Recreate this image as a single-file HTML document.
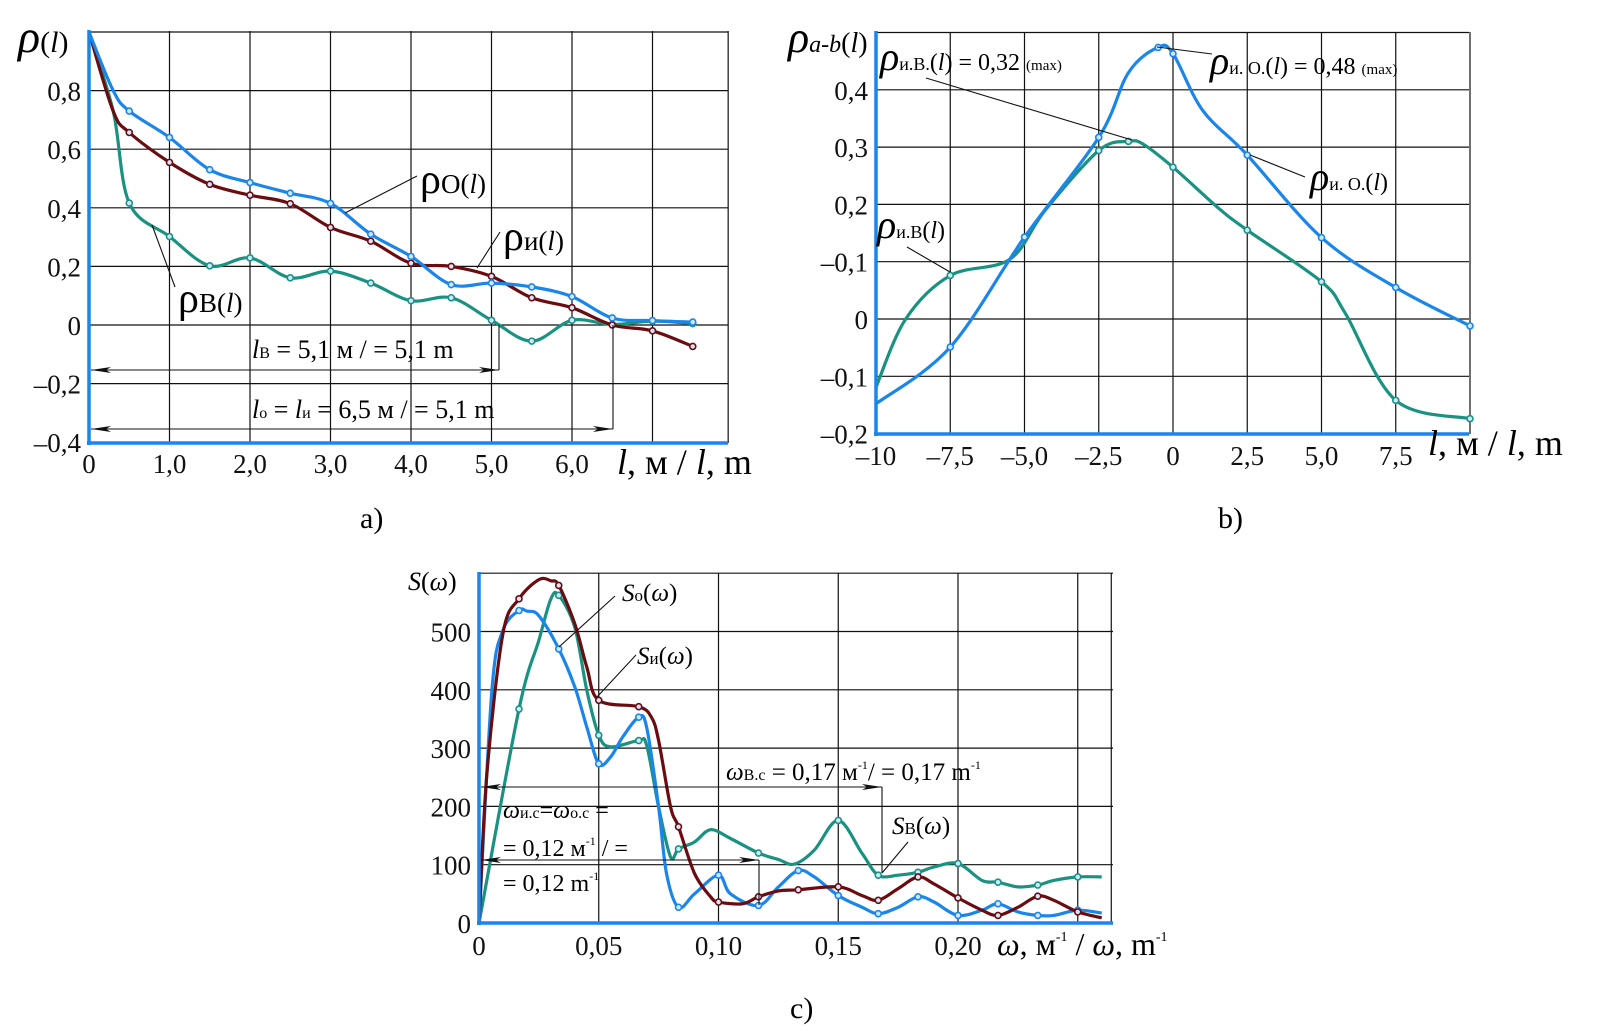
<!DOCTYPE html>
<html><head><meta charset="utf-8">
<style>
html,body{margin:0;padding:0;background:#fff;}
svg{display:block;font-family:"Liberation Serif",serif;}
.tick{font-size:27px;fill:#111;}
.grid{stroke:#111;stroke-width:1.2;}
.ax{stroke:#1a86ea;stroke-width:3.5;}
.lead{stroke:#111;stroke-width:1.1;fill:none;}
</style></head>
<body>
<svg id="fig" width="1610" height="1036" viewBox="0 0 1610 1036" xmlns="http://www.w3.org/2000/svg">
<defs>
<marker id="arr" viewBox="0 0 20 6" refX="20" refY="3" markerWidth="20" markerHeight="6" markerUnits="userSpaceOnUse" orient="auto-start-reverse">
<path d="M0,0 L20,3 L0,6 L5,3 Z" fill="#111"/></marker>
</defs>
<g id="chartA"></g>
<g id="chartB"></g>
<g id="chartC"></g>

<g>
<text x="18" y="52" font-size="46" font-style="italic">ρ<tspan font-size="30" font-style="normal">(</tspan><tspan font-size="30">l</tspan><tspan font-size="30" font-style="normal">)</tspan></text>
<text x="617" y="474" font-size="36"><tspan font-style="italic">l</tspan>, м / <tspan font-style="italic">l</tspan>, m</text>
<line class="lead" x1="417" y1="176" x2="345" y2="213"/>
<text x="420" y="193" font-size="42">ρ<tspan font-size="27">O(<tspan font-style="italic">l</tspan>)</tspan></text>
<line class="lead" x1="500" y1="232" x2="477" y2="268"/>
<text x="503" y="250" font-size="42">ρ<tspan font-size="27">и(<tspan font-style="italic">l</tspan>)</tspan></text>
<line class="lead" x1="175" y1="287" x2="152" y2="225"/>
<text x="178" y="312" font-size="42">ρ<tspan font-size="27">B(<tspan font-style="italic">l</tspan>)</tspan></text>
<line class="lead" x1="499" y1="325" x2="499" y2="370"/>
<line class="lead" x1="91" y1="370" x2="499" y2="370" marker-start="url(#arr)" marker-end="url(#arr)"/>
<text x="252" y="358" font-size="26"><tspan font-style="italic">l</tspan><tspan font-size="16">B</tspan> = 5,1 м / = 5,1 m</text>
<line class="lead" x1="613" y1="325" x2="613" y2="429"/>
<line class="lead" x1="91" y1="429" x2="613" y2="429" marker-start="url(#arr)" marker-end="url(#arr)"/>
<text x="252" y="418" font-size="26"><tspan font-style="italic">l</tspan><tspan font-size="16">o</tspan> = <tspan font-style="italic">l</tspan><tspan font-size="16">и</tspan> = 6,5 м / = 5,1 m</text>
<text x="360" y="528" font-size="30">a)</text>
</g>

<g>
<text x="788" y="52" font-size="44" font-style="italic">ρ<tspan font-size="24">a-b</tspan><tspan font-size="28" font-style="normal">(</tspan><tspan font-size="28">l</tspan><tspan font-size="28" font-style="normal">)</tspan></text>
<text x="1428" y="455" font-size="36"><tspan font-style="italic">l</tspan>, м / <tspan font-style="italic">l</tspan>, m</text>
<line class="lead" x1="926" y1="78" x2="1132" y2="140"/>
<text x="880" y="70" font-size="40" font-style="italic">ρ<tspan font-size="18" font-style="normal">и.B.</tspan><tspan font-size="24" font-style="normal">(</tspan><tspan font-size="24">l</tspan><tspan font-size="24" font-style="normal">) = 0,32 </tspan><tspan font-size="15" font-style="normal">(max)</tspan></text>
<line class="lead" x1="1212" y1="54" x2="1157" y2="47"/>
<text x="1210" y="74" font-size="40" font-style="italic">ρ<tspan font-size="18" font-style="normal">и. O.</tspan><tspan font-size="24" font-style="normal">(</tspan><tspan font-size="24">l</tspan><tspan font-size="24" font-style="normal">) = 0,48 </tspan><tspan font-size="15" font-style="normal">(max)</tspan></text>
<line class="lead" x1="1305" y1="177" x2="1250" y2="155"/>
<text x="1310" y="190" font-size="40" font-style="italic">ρ<tspan font-size="18" font-style="normal">и. O.</tspan><tspan font-size="24" font-style="normal">(</tspan><tspan font-size="24">l</tspan><tspan font-size="24" font-style="normal">)</tspan></text>
<line class="lead" x1="907" y1="247" x2="950" y2="272"/>
<text x="877" y="238" font-size="40" font-style="italic">ρ<tspan font-size="18" font-style="normal">и.B</tspan><tspan font-size="24" font-style="normal">(</tspan><tspan font-size="24">l</tspan><tspan font-size="24" font-style="normal">)</tspan></text>
<text x="1218" y="528" font-size="30">b)</text>
</g>

<g>
<text x="408" y="590" font-size="26"><tspan font-style="italic">S</tspan>(<tspan font-style="italic">ω</tspan>)</text>
<text x="997" y="955" font-size="32"><tspan font-style="italic">ω</tspan>, м<tspan font-size="14" dy="-14">-1</tspan><tspan dy="14"> / </tspan><tspan font-style="italic">ω</tspan>, m<tspan font-size="14" dy="-14">-1</tspan></text>
<line class="lead" x1="615" y1="596" x2="559" y2="647"/>
<text x="622" y="601" font-size="25"><tspan font-style="italic">S</tspan><tspan font-size="17">o</tspan>(<tspan font-style="italic">ω</tspan>)</text>
<line class="lead" x1="636" y1="655" x2="597" y2="697"/>
<text x="637" y="664" font-size="25"><tspan font-style="italic">S</tspan><tspan font-size="17">и</tspan>(<tspan font-style="italic">ω</tspan>)</text>
<line class="lead" x1="908" y1="842" x2="882" y2="873"/>
<text x="892" y="834" font-size="25"><tspan font-style="italic">S</tspan><tspan font-size="17">B</tspan>(<tspan font-style="italic">ω</tspan>)</text>
<line class="lead" x1="882" y1="787" x2="882" y2="873"/>
<line class="lead" x1="481" y1="787" x2="882" y2="787" marker-start="url(#arr)" marker-end="url(#arr)"/>
<text x="726" y="780" font-size="25"><tspan font-style="italic">ω</tspan><tspan font-size="16">B.c</tspan> = 0,17 м<tspan font-size="12" dy="-11">-1</tspan><tspan dy="11">/ = 0,17 m</tspan><tspan font-size="12" dy="-11">-1</tspan></text>
<line class="lead" x1="759" y1="860" x2="759" y2="905"/>
<line class="lead" x1="481" y1="860" x2="759" y2="860" marker-start="url(#arr)" marker-end="url(#arr)"/>
<text x="503" y="818" font-size="24"><tspan font-style="italic">ω</tspan><tspan font-size="16">и.c</tspan>=<tspan font-style="italic">ω</tspan><tspan font-size="16">o.c</tspan> =</text>
<text x="503" y="856" font-size="24">= 0,12 м<tspan font-size="12" dy="-11">-1</tspan><tspan dy="11"> / =</tspan></text>
<text x="503" y="891" font-size="24">= 0,12 m<tspan font-size="12" dy="-11">-1</tspan></text>
<text x="790" y="1018" font-size="30">c)</text>
</g>
</svg>
<script>
const aYTicks = [0.8, 0.6, 0.4, 0.2, 0, -0.2, -0.4];
const aYTickLabels = ["0,8","0,6","0,4","0,2","0","–0,2","–0,4"];
const aXTicks = [0,1,2,3,4,5,6];
const aXTickLabels = ["0","1,0","2,0","3,0","4,0","5,0","6,0"];
const aL  = [0,0.3,0.5,1,1.5,2,2.5,3,3.5,4,4.5,5,5.5,6,6.5,7,7.5];
const aRhoO = [1.0,0.80,0.73,0.64,0.53,0.486,0.45,0.415,0.31,0.234,0.138,0.143,0.13,0.097,0.024,0.015,0.01];
const aRhoI = [1.0,0.73,0.657,0.555,0.48,0.443,0.414,0.333,0.286,0.211,0.2,0.166,0.093,0.059,0.0,-0.02,-0.073];
const aRhoV = [1.0,0.73,0.416,0.302,0.202,0.229,0.161,0.184,0.143,0.083,0.093,0.016,-0.055,0.016,0.002,0.013,0.005];
const bYTicks = [0.4,0.3,0.2,0.1,0,-0.1,-0.2];
const bYTickLabels = ["0,4","0,3","0,2","–0,1","0","–0,1","–0,2"];
const bXTicks = [-10,-7.5,-5,-2.5,0,2.5,5,7.5];
const bXTickLabels = ["–10","–7,5","–5,0","–2,5","0","2,5","5,0","7,5"];
const bLO = [-10,-7.5,-5,-2.5,-1.5,-0.5,0,1,2.5,5,7.5,10];
const bRhoIO = [-0.148,-0.049,0.143,0.317,0.43,0.474,0.463,0.364,0.286,0.142,0.055,-0.012];
const bLV = [-10,-9,-7.5,-5.5,-4.3,-2.5,-1.5,-1,0,1.5,2.5,5,5.8,7.5,10];
const bRhoIV = [-0.119,0.0,0.076,0.104,0.19,0.294,0.31,0.305,0.265,0.195,0.155,0.065,0.01,-0.142,-0.174];
const cYTicks = [500,400,300,200,100,0];
const cYTickLabels = ["500","400","300","200","100","0"];
const cXTicks = [0,0.05,0.10,0.15,0.20];
const cXTickLabels = ["0","0,05","0,10","0,15","0,20"];
const cWO = [0,0.0054,0.01,0.0167,0.02,0.025,0.0333,0.04,0.045,0.05,0.055,0.06,0.0667,0.07,0.075,0.0783,0.0833,0.09,0.10,0.105,0.1167,0.125,0.1333,0.14,0.15,0.16,0.1667,0.175,0.1833,0.19,0.20,0.21,0.2167,0.225,0.2333,0.24,0.25,0.26];
const cSO = [0,399,502,536,535,527,470,405,336,273,285,319,353,336,199,85,27,50,82,50,30,62,90,79,47,27,16,27,45,36,13,22,33,19,13,13,22,17];
const cWI = [0,0.0033,0.01,0.0167,0.025,0.03,0.0333,0.04,0.045,0.05,0.0667,0.072,0.075,0.08,0.0833,0.09,0.0967,0.10,0.11,0.1167,0.125,0.1333,0.15,0.16,0.1667,0.175,0.1833,0.19,0.20,0.21,0.2167,0.225,0.2333,0.24,0.25,0.26];
const cSI = [0,256,496,556,589,587,579,513,439,382,371,353,313,199,165,85,45,36,33,45,55,57,62,47,39,59,79,67,43,22,13,27,46,39,19,9];
const cWV = [0,0.0167,0.025,0.03,0.0333,0.04,0.045,0.05,0.055,0.0667,0.07,0.075,0.08,0.0833,0.09,0.0967,0.105,0.1167,0.125,0.1317,0.14,0.15,0.16,0.1667,0.175,0.1833,0.19,0.20,0.21,0.2167,0.225,0.2333,0.24,0.25,0.26];
const cSV = [0,367,485,556,562,507,399,322,302,313,305,199,113,127,139,160,145,120,109,101,125,176,119,82,82,87,96,102,73,70,62,65,73,79,79];

const BLUE = "#1a86ea", BROWN = "#6a0c10", GREEN = "#1a9281";
const NS = "http://www.w3.org/2000/svg";
function mk(parent, tag, attrs) {
  const e = document.createElementNS(NS, tag);
  for (const k in attrs) e.setAttribute(k, attrs[k]);
  parent.appendChild(e);
  return e;
}
function smoothPath(pts) {
  let d = "M" + pts[0][0].toFixed(1) + "," + pts[0][1].toFixed(1);
  for (let i = 0; i < pts.length - 1; i++) {
    const p0 = pts[Math.max(0, i - 1)], p1 = pts[i], p2 = pts[i + 1], p3 = pts[Math.min(pts.length - 1, i + 2)];
    const t = 6;
    const c1 = [p1[0] + (p2[0] - p0[0]) / t, p1[1] + (p2[1] - p0[1]) / t];
    const c2 = [p2[0] - (p3[0] - p1[0]) / t, p2[1] - (p3[1] - p1[1]) / t];
    d += " C" + c1[0].toFixed(1) + "," + c1[1].toFixed(1) + " " + c2[0].toFixed(1) + "," + c2[1].toFixed(1) + " " + p2[0].toFixed(1) + "," + p2[1].toFixed(1);
  }
  return d;
}
function drawChart(g, cfg) {
  const {x, y, x0, x1, y0, y1, xGrid, yGrid} = cfg;
  xGrid.forEach(v => {
    const l = mk(g, "line", {x1: x(v), x2: x(v), y1: y0, y2: y1, class: "grid"});
    
    
  });
  yGrid.forEach(v => {
    const l = mk(g, "line", {x1: x0, x2: x1, y1: y(v), y2: y(v), class: "grid"});
    
    
  });
  cfg.yTicks.forEach((v, i) => {
    const t = mk(g, "text", {x: x0 - 8, y: y(v) + 10, class: "tick", "text-anchor": "end"});
    t.textContent = cfg.yLabels[i];
    
    
  });
  cfg.xTicks.forEach((v, i) => {
    const t = mk(g, "text", {x: x(v), y: cfg.xLabelY, class: "tick", "text-anchor": "middle"});
    t.textContent = cfg.xLabels[i];
    
    
  });
  cfg.series.forEach(s => {
    const pts = s.xs.map((v, i) => [x(v), y(s.ys[i])]);
    const p = mk(g, "path", {d: smoothPath(pts), fill: "none", stroke: s.color, "stroke-width": 3.2, "stroke-linejoin": "round"});
    
    
    pts.forEach((pt, i) => {
      if (i === 0 || !s.mark(s.xs[i])) return;
      const c = mk(g, "circle", {cx: pt[0], cy: pt[1], r: 3, fill: "#cfe6ff", stroke: s.color, "stroke-width": 1.6});
      
      
    });
  });
  const ay = mk(g, "line", {x1: x0, x2: x0, y1: y0 - 1, y2: y1 + 2, class: "ax"});
  
  
  const ax = mk(g, "line", {x1: x0 - 2, x2: x1, y1: y1, y2: y1, class: "ax"});
  
  
}
const half = v => Math.abs(v * 2 - Math.round(v * 2)) < 1e-6;
drawChart(document.getElementById("chartA"), {
  x: v => 89 + 80.5 * v, y: v => 325 - 293 * v,
  x0: 89, x1: 728, y0: 31, y1: 443,
  xGrid: [1,2,3,4,5,6,7,7.94], yGrid: [1.0,0.8,0.6,0.4,0.2,0,-0.2],
  yTicks: aYTicks, yLabels: aYTickLabels, xTicks: aXTicks, xLabels: aXTickLabels, xLabelY: 473,
  series: [
    {name: "rho-v-line", xs: aL, ys: aRhoV, color: GREEN, mark: half},
    {name: "rho-i-line", xs: aL, ys: aRhoI, color: BROWN, mark: half},
    {name: "rho-o-line", xs: aL, ys: aRhoO, color: BLUE, mark: half}
  ]
});
drawChart(document.getElementById("chartB"), {
  x: v => 1173 + 29.7 * v, y: v => 319 - 573 * v,
  x0: 876, x1: 1469, y0: 32, y1: 434,
  xGrid: [-7.5,-5,-2.5,0,2.5,5,7.5,10], yGrid: [0.5,0.4,0.3,0.2,0.1,0,-0.1],
  yTicks: bYTicks, yLabels: bYTickLabels, xTicks: bXTicks, xLabels: bXTickLabels, xLabelY: 465,
  series: [
    {name: "rho-iv-line", xs: bLV, ys: bRhoIV, color: GREEN, mark: v => Math.abs(v / 2.5 - Math.round(v / 2.5)) < 1e-6 || v === -1.5},
    {name: "rho-io-line", xs: bLO, ys: bRhoIO, color: BLUE, mark: v => Math.abs(v / 2.5 - Math.round(v / 2.5)) < 1e-6 || v === -0.5}
  ]
});
drawChart(document.getElementById("chartC"), {
  x: v => 479 + 2395 * v, y: v => 923 - 0.583 * v,
  x0: 479, x1: 1113, y0: 573, y1: 923,
  xGrid: [0.05,0.10,0.15,0.20,0.25,0.264], yGrid: [600,500,400,300,200,100],
  yTicks: cYTicks, yLabels: cYTickLabels, xTicks: cXTicks, xLabels: cXTickLabels, xLabelY: 955,
  series: [
    {name: "s-v-line", xs: cWV, ys: cSV, color: GREEN, mark: v => Math.abs(v * 60 - Math.round(v * 60)) < 0.05},
    {name: "s-o-line", xs: cWO, ys: cSO, color: BLUE, mark: v => Math.abs(v * 60 - Math.round(v * 60)) < 0.05},
    {name: "s-i-line", xs: cWI, ys: cSI, color: BROWN, mark: v => Math.abs(v * 60 - Math.round(v * 60)) < 0.05}
  ]
});
</script>
</body></html>
